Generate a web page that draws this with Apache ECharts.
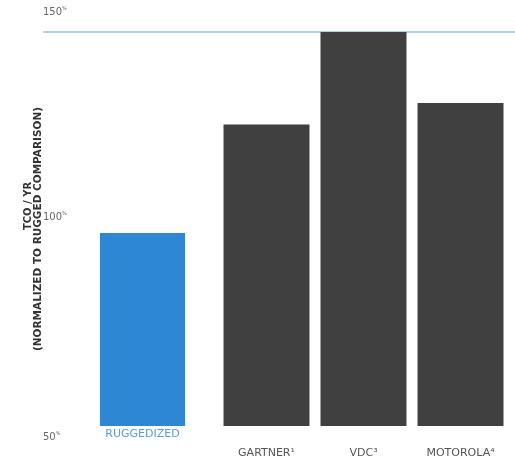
<!DOCTYPE html>
<html>
<head>
<meta charset="utf-8">
<script src="https://cdn.jsdelivr.net/npm/echarts@6/dist/echarts.min.js"></script>
<style>
  html, body { margin: 0; padding: 0; background: #fff; }
  #tcoChart { width: 515px; height: 462px; }
</style>
</head>
<body>
<div id="tcoChart"></div>
<script>
// values (TCO per year, % of rugged comparison)
let ruggedCategories = ['RUGGEDIZED']
let ruggedValues = [99]
let consumerCategories = ['GARTNER¹', 'VDC³', 'MOTOROLA⁴']
let consumerValues = [126.5, 150, 132]
let yTicks = [50, 100, 150]

let blue = '#2e87d4'
let dark = '#404040'

// shift each y label a bit like the original slide does
let labelShift = {
  150: '{n|150}{p|%}\n{s| }',
  100: '{n|100}{p|%}\n{t| }',
  50: '{u| }\n{n|50}{p|%}'
}

let myChart = echarts.init(document.getElementById('tcoChart'))
myChart.setOption({
  animation: false,
  grid: [
    {left: 43, right: 0, top: 32, bottom: 36},
    {left: 100, width: 85, top: 32, bottom: 36},
    {left: 218, right: 6, top: 32, bottom: 36}
  ],
  xAxis: [
    {gridIndex: 0, type: 'category', data: [''], show: false},
    {
      gridIndex: 1,
      type: 'category',
      data: ruggedCategories,
      axisLine: {show: false},
      axisTick: {show: false},
      axisLabel: {
        margin: 3,
        color: '#5b9be0',
        fontFamily: 'DejaVu Sans',
        fontSize: 11
      }
    },
    {
      gridIndex: 2,
      type: 'category',
      data: consumerCategories,
      axisLine: {show: false},
      axisTick: {show: false},
      axisLabel: {
        margin: 22,
        color: '#555',
        fontFamily: 'DejaVu Sans',
        fontSize: 11
      }
    }
  ],
  yAxis: [
    {
      gridIndex: 0,
      type: 'value',
      min: yTicks[0],
      max: yTicks[yTicks.length - 1],
      interval: 50,
      axisLine: {show: false},
      axisTick: {show: false},
      splitLine: {
        show: true,
        lineStyle: {
          color: ['rgba(0,0,0,0)', 'rgba(0,0,0,0)', '#8fc3ee'],
          width: 1.5
        }
      },
      axisLabel: {
        inside: true,
        margin: 0,
        formatter: (v) => labelShift[v],
        rich: {
          n: {fontFamily: 'DejaVu Sans', fontSize: 10, color: '#666', lineHeight: 12},
          p: {fontFamily: 'DejaVu Sans', fontSize: 5, color: '#666', verticalAlign: 'top', lineHeight: 12},
          s: {fontSize: 5, lineHeight: 40},
          t: {fontSize: 5, lineHeight: 24},
          u: {fontSize: 5, lineHeight: 22}
        }
      },
      name: '{a|TCO / YR}\n{b|(NORMALIZED TO RUGGED COMPARISON)}',
      nameLocation: 'middle',
      nameGap: 0,
      nameMoveOverlap: false,
      nameTextStyle: {
        rich: {
          a: {fontFamily: 'DejaVu Sans', fontWeight: 'bold', fontSize: 10, color: '#333', lineHeight: 10, padding: [0, 0, 0, 46]},
          b: {fontFamily: 'DejaVu Sans', fontWeight: 'bold', fontSize: 10.5, color: '#333', lineHeight: 10}
        }
      }
    },
    {gridIndex: 1, type: 'value', min: 50, max: 150, show: false},
    {gridIndex: 2, type: 'value', min: 50, max: 150, show: false}
  ],
  series: [
    {
      name: 'Ruggedized',
      type: 'bar',
      xAxisIndex: 1,
      yAxisIndex: 1,
      barWidth: 85,
      itemStyle: {color: blue},
      data: ruggedValues
    },
    {
      name: 'Consumer',
      type: 'bar',
      xAxisIndex: 2,
      yAxisIndex: 2,
      barWidth: 86,
      itemStyle: {color: dark},
      data: consumerValues
    }
  ]
})
</script>
</body>
</html>
